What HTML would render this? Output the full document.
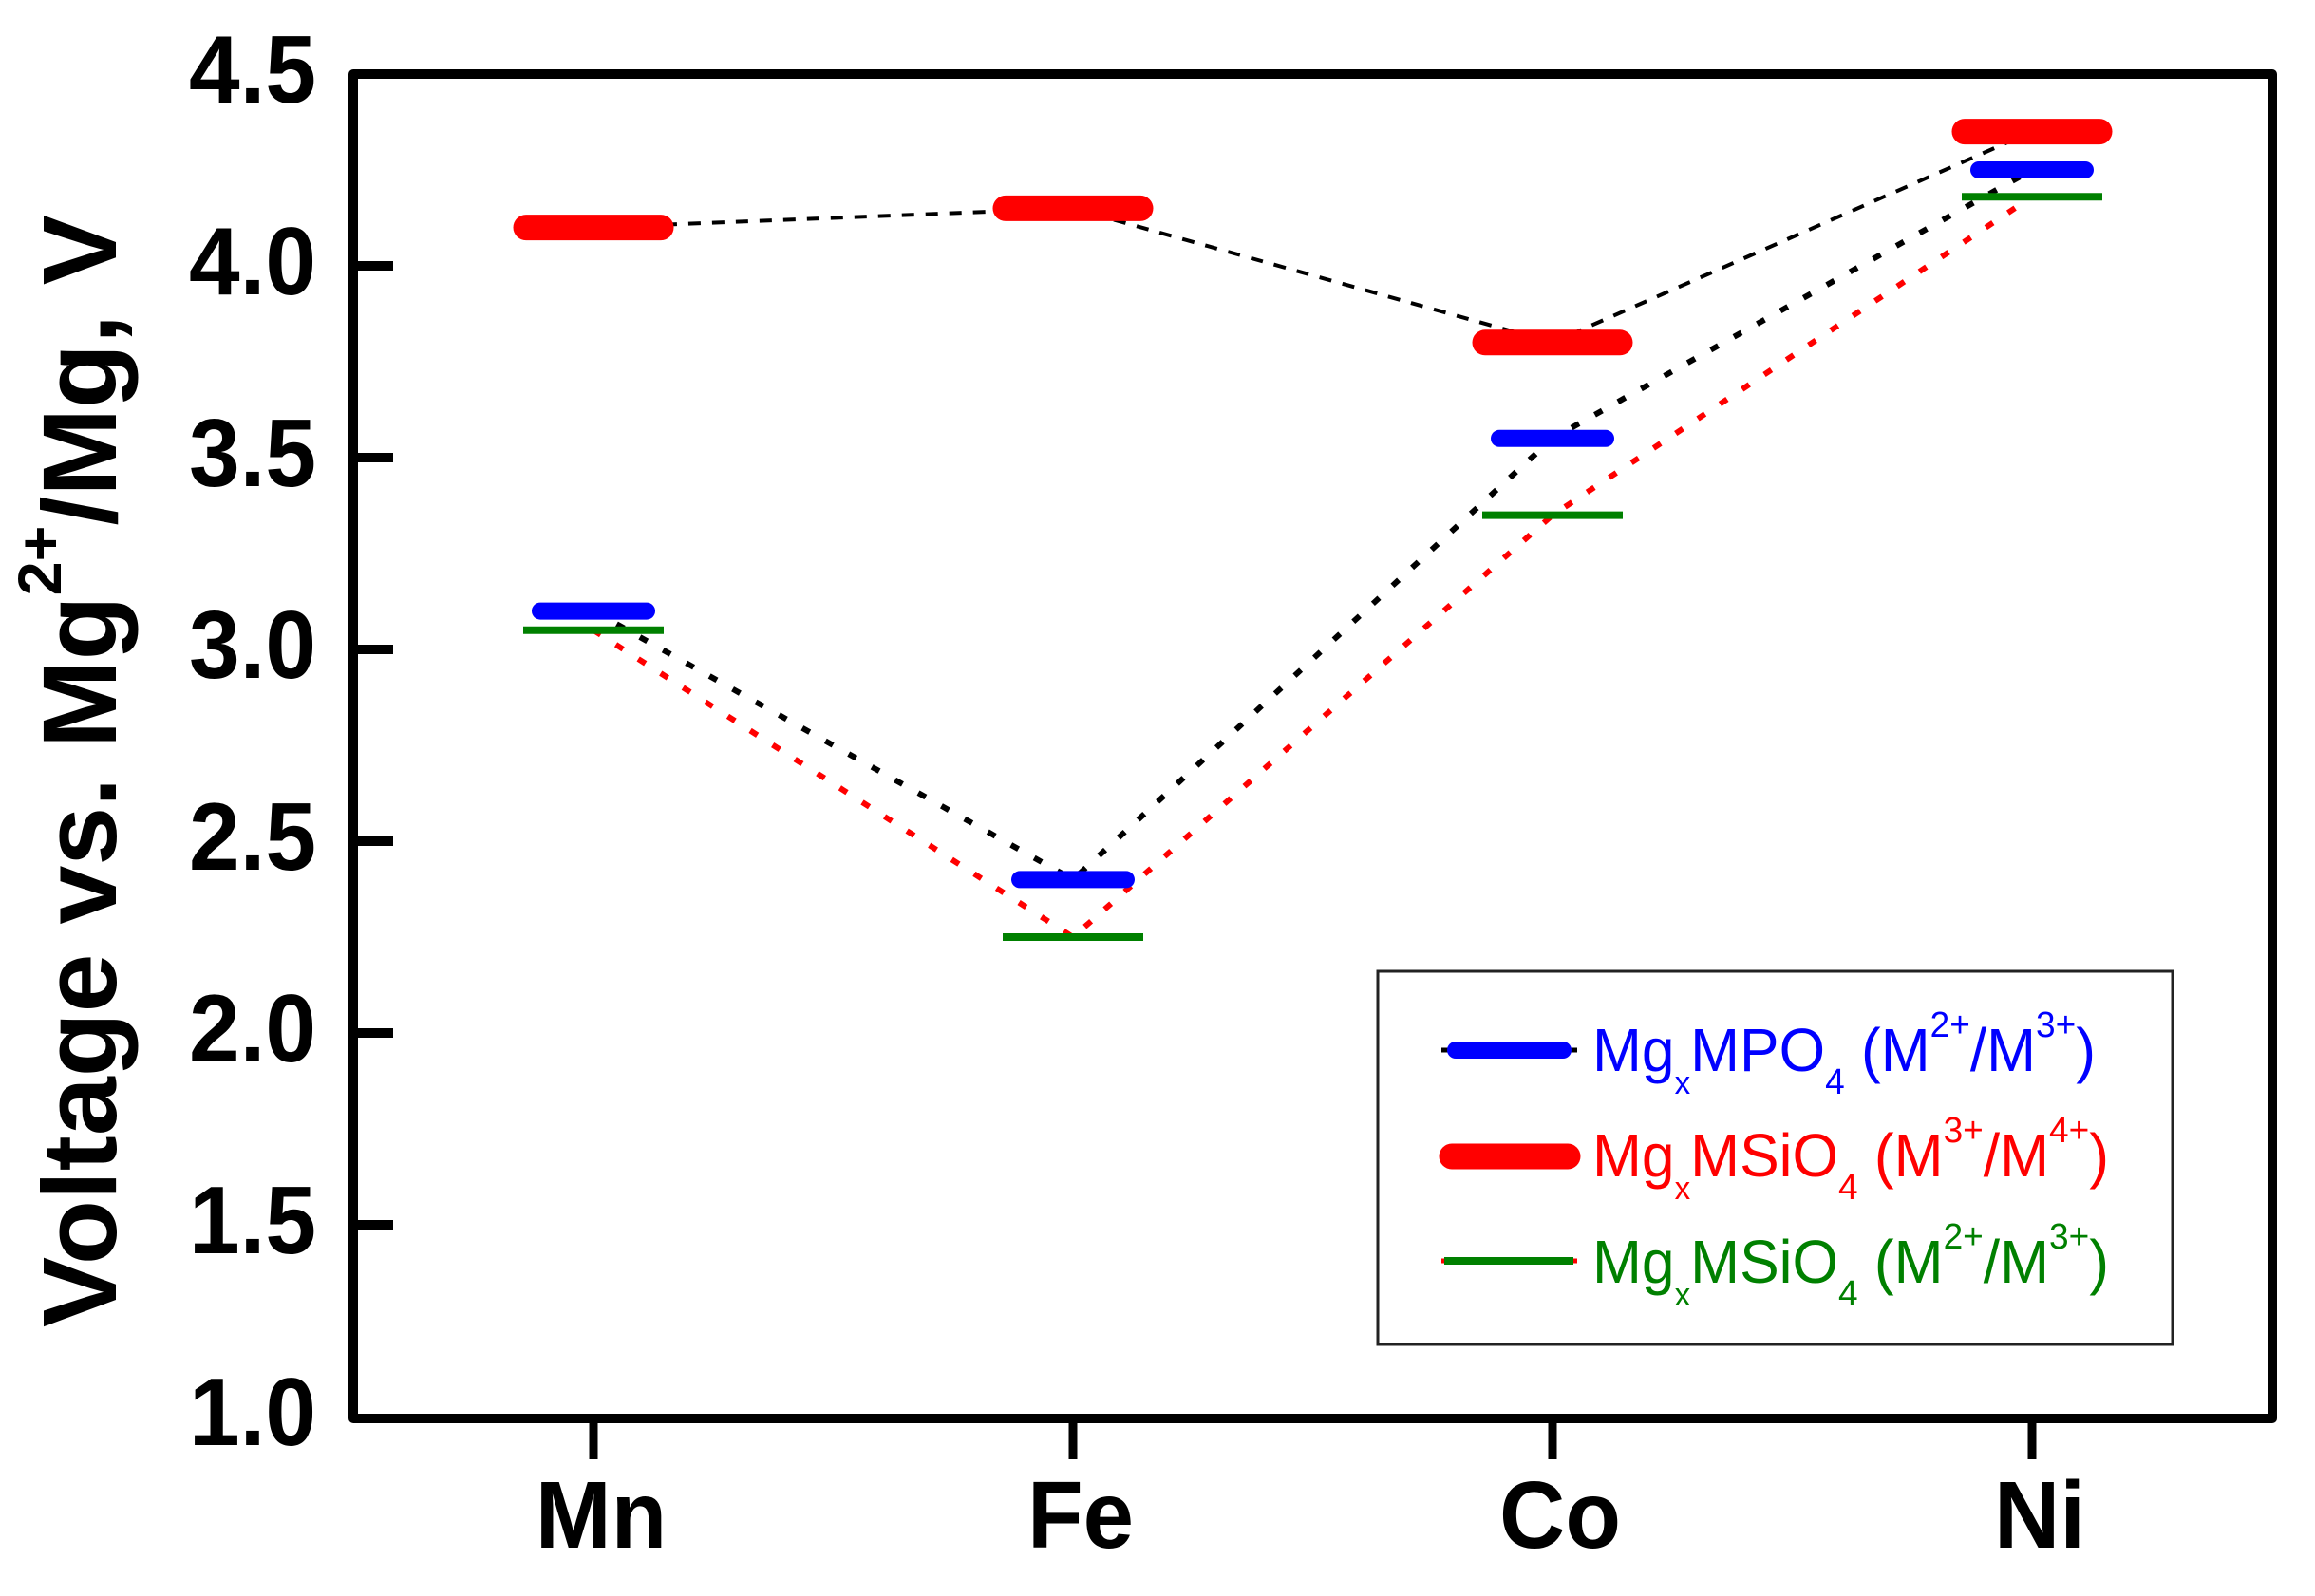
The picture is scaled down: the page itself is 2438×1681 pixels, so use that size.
<!DOCTYPE html>
<html>
<head>
<meta charset="utf-8">
<style>
html,body{margin:0;padding:0;background:#fff;width:2438px;height:1681px;overflow:hidden}
svg{display:block}
text{font-family:"Liberation Sans",sans-serif}
</style>
</head>
<body>
<svg id="chart" xmlns="http://www.w3.org/2000/svg" width="2438" height="1681" viewBox="0 0 2438 1681">
  <g id="lines"></g>
  <g id="marks"></g>
  <rect x="372" y="78" width="2021" height="1416" fill="none" stroke="#000" stroke-width="10" stroke-linejoin="round"/>
  <g id="yaxis"></g>
  <g id="xaxis"></g>
  <text transform="translate(122,1398) rotate(-90)" font-size="110" font-weight="bold" fill="#000" textLength="1172" lengthAdjust="spacingAndGlyphs">Voltage vs. Mg<tspan font-size="64" dy="-58">2+</tspan><tspan dy="58">/Mg, V</tspan></text>
  <g>
    <rect x="1451" y="1023" width="837" height="393" fill="#fff" stroke="#222" stroke-width="3"/>
    <g>
      <line x1="1518" x2="1661" y1="1106" y2="1106" stroke="#000" stroke-width="5"/>
      <line x1="1533" x2="1646" y1="1106" y2="1106" stroke="#0000ff" stroke-width="18" stroke-linecap="round"/>
      <text x="1677" y="1128" font-size="64" fill="#0000ff" textLength="530" lengthAdjust="spacingAndGlyphs">Mg<tspan font-size="34" dy="24">x</tspan><tspan dy="-24">MPO</tspan><tspan font-size="38" dy="24">4</tspan><tspan dy="-24"> (M</tspan><tspan font-size="38" dy="-36">2+</tspan><tspan dy="36">/M</tspan><tspan font-size="38" dy="-36">3+</tspan><tspan dy="36">)</tspan></text>
    </g>
    <g>
      <line x1="1529" x2="1651" y1="1218" y2="1218" stroke="#ff0000" stroke-width="27" stroke-linecap="round"/>
      <text x="1677" y="1239" font-size="64" fill="#ff0000" textLength="544" lengthAdjust="spacingAndGlyphs">Mg<tspan font-size="34" dy="24">x</tspan><tspan dy="-24">MSiO</tspan><tspan font-size="38" dy="24">4</tspan><tspan dy="-24"> (M</tspan><tspan font-size="38" dy="-36">3+</tspan><tspan dy="36">/M</tspan><tspan font-size="38" dy="-36">4+</tspan><tspan dy="36">)</tspan></text>
    </g>
    <g>
      <line x1="1518" x2="1661" y1="1328" y2="1328" stroke="#ff0000" stroke-width="5"/>
      <line x1="1521" x2="1657" y1="1328" y2="1328" stroke="#008000" stroke-width="8"/>
      <text x="1677" y="1351" font-size="64" fill="#008000" textLength="544" lengthAdjust="spacingAndGlyphs">Mg<tspan font-size="34" dy="24">x</tspan><tspan dy="-24">MSiO</tspan><tspan font-size="38" dy="24">4</tspan><tspan dy="-24"> (M</tspan><tspan font-size="38" dy="-36">2+</tspan><tspan dy="36">/M</tspan><tspan font-size="38" dy="-36">3+</tspan><tspan dy="36">)</tspan></text>
    </g>
  </g>
</svg>
<script>
const categories = ["Mn", "Fe", "Co", "Ni"];
const yTickValues = [1.0, 1.5, 2.0, 2.5, 3.0, 3.5, 4.0, 4.5];
const yTickLabels = ["1.0", "1.5", "2.0", "2.5", "3.0", "3.5", "4.0", "4.5"];
const phosphateM2M3 = [3.10, 2.40, 3.55, 4.25];
const silicateM3M4 = [4.10, 4.15, 3.80, 4.35];
const silicateM2M3 = [3.05, 2.25, 3.35, 4.18];

const NS = "http://www.w3.org/2000/svg";
const xScale = i => 625 + i * 505;
const yScale = v => 280 + (4 - v) * 404;

function make(parent, tag, props) {
  const el = document.createElementNS(NS, tag);
  for (const k in props) el.setAttribute(k, props[k]);
  parent.appendChild(el);
  return el;
}

const linesG = document.getElementById("lines");
const marksG = document.getElementById("marks");
const yaxisG = document.getElementById("yaxis");
const xaxisG = document.getElementById("xaxis");

function pointsFor(values) {
  return values.map((v, i) => xScale(i) + "," + yScale(v)).join(" ");
}

const lineSilicate34 = make(linesG, "polyline", {points: pointsFor(silicateM3M4), fill: "none", stroke: "#000", "stroke-width": 4, "stroke-dasharray": "13 12"});


const linePhosphate = make(linesG, "polyline", {points: pointsFor(phosphateM2M3), fill: "none", stroke: "#000", "stroke-width": 6, "stroke-dasharray": "9 19"});


const lineSilicate23 = make(linesG, "polyline", {points: pointsFor(silicateM2M3), fill: "none", stroke: "#ff0000", "stroke-width": 6, "stroke-dasharray": "9 19"});



phosphateM2M3.forEach((v, i) => {
  const m = make(marksG, "line", {x1: xScale(i) - 56, x2: xScale(i) + 56, y1: yScale(v), y2: yScale(v), stroke: "#0000ff", "stroke-width": 18, "stroke-linecap": "round"});
  
  
});
silicateM3M4.forEach((v, i) => {
  const m = make(marksG, "line", {x1: xScale(i) - 71, x2: xScale(i) + 71, y1: yScale(v), y2: yScale(v), stroke: "#ff0000", "stroke-width": 27, "stroke-linecap": "round"});
  
  
});
silicateM2M3.forEach((v, i) => {
  const m = make(marksG, "line", {x1: xScale(i) - 74, x2: xScale(i) + 74, y1: yScale(v), y2: yScale(v), stroke: "#008000", "stroke-width": 8});
  
  
});

yTickValues.forEach((v, i) => {
  if (i > 0 && i < yTickValues.length - 1) {
    const t = make(yaxisG, "line", {x1: 372, x2: 414, y1: yScale(v), y2: yScale(v), stroke: "#000", "stroke-width": 10});
    
    
  }
  const l = make(yaxisG, "text", {x: 333, y: yScale(v) + 30, "text-anchor": "end", "font-size": 101, "font-weight": "bold", fill: "#000", textLength: 134, lengthAdjust: "spacingAndGlyphs"});
  
  
  l.textContent = yTickLabels[i];
});

categories.forEach((c, i) => {
  const t = make(xaxisG, "line", {x1: xScale(i), x2: xScale(i), y1: 1494, y2: 1537, stroke: "#000", "stroke-width": 9});
  
  
  const l = make(xaxisG, "text", {x: xScale(i) + 8, y: 1630, "text-anchor": "middle", "font-size": 100, "font-weight": "bold", fill: "#000"});
  
  
  l.textContent = c;
  l.setAttribute('textLength', (l.getComputedTextLength() * 0.96).toFixed(1));
  l.setAttribute('lengthAdjust', 'spacingAndGlyphs');
});
</script>
</body>
</html>
